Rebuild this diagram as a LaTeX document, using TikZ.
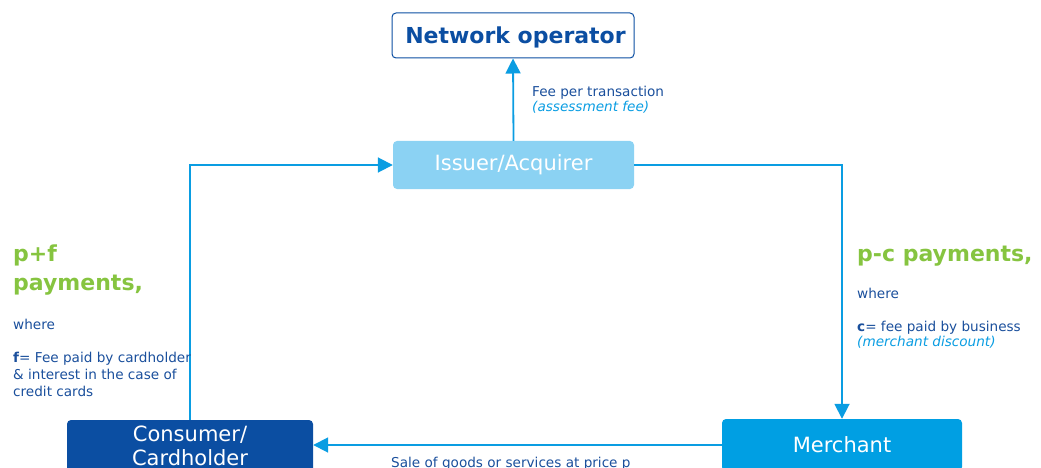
\documentclass[tikz,border=0pt]{standalone}
\usepackage{fontspec}
\setmainfont{DejaVu Sans}
\usetikzlibrary{arrows.meta}
\definecolor{navy}{HTML}{0B4EA2}
\definecolor{txtblue}{HTML}{1A4F9C}
\definecolor{skyblue}{HTML}{8BD2F3}
\definecolor{brightblue}{HTML}{009FE3}
\definecolor{linkblue}{HTML}{0A9DE2}
\definecolor{leaf}{HTML}{86C440}
\tikzset{
  box/.style={rectangle, rounded corners=4pt, inner sep=0pt, align=center},
  flow/.style={draw=linkblue, line width=1.8pt, -{Triangle[width=15pt,length=15pt]}},
  body/.style={font=\fontsize{13.6}{17}\selectfont, text=txtblue, anchor=base west, inner sep=0pt, align=left},
  note/.style={font=\fontsize{13.6}{17}\selectfont\itshape, text=linkblue, anchor=base west, inner sep=0pt},
  headline/.style={font=\fontsize{22}{29}\selectfont\bfseries, text=leaf, anchor=base west, inner sep=0pt, align=left},
  boxtext/.style={font=\fontsize{21}{24}\selectfont, text=white}
}
\begin{document}
\begin{tikzpicture}[x=1pt,y=-1pt]
\useasboundingbox (0,0) rectangle (1041,468);
\clip (0,0) rectangle (1041,468);

% parties
\node[box, draw=navy, line width=1pt, fill=white, minimum width=242pt, minimum height=45pt,
      text depth=0pt, font=\fontsize{22}{26}\selectfont\bfseries, text=navy] (net) at (513,35.5) {\hspace{5pt}Network operator};
\node[box, fill=skyblue, minimum width=241pt, minimum height=48pt, boxtext] (iss) at (513.5,165) {Issuer/Acquirer};
\node[box, fill=navy, minimum width=246pt, minimum height=52pt, boxtext] (con) at (190,446) {Consumer/\\Cardholder};
\node[box, fill=brightblue, minimum width=240pt, minimum height=52pt, boxtext] (mer) at (842,445) {Merchant};

% money and goods flows
\draw[flow] (iss.north) -- (net.south);
\draw[flow] (con.north) |- (iss.west);
\draw[flow] (iss.east) -| (mer.north);
\draw[flow] (mer.west) -- (con.east |- mer.west);

% flow labels
\node[body] (feeA) at (532,96.5) {Fee per transaction};
\node[note] (feeB) at (532,111.7) {(assessment fee)};
\node[body] (sale) at (391,467) {Sale of goods or services at price p};

% cardholder side (multi-line nodes sit on the baseline of their last line)
\node[headline] (pf) at (13,290) {p+f\\payments,};
\node[body] (whereL) at (13,329) {where};
\node[body] (fdef) at (13,396) {\textbf{f}= Fee paid by cardholder\\\& interest in the case of\\credit cards};

% merchant side
\node[headline] (pc) at (857,261) {p-c payments,};
\node[body] (whereR) at (857,298) {where};
\node[body] (cdef) at (857,331) {\textbf{c}= fee paid by business};
\node[note] (cnote) at (857,346) {(merchant discount)};
\end{tikzpicture}
\end{document}
